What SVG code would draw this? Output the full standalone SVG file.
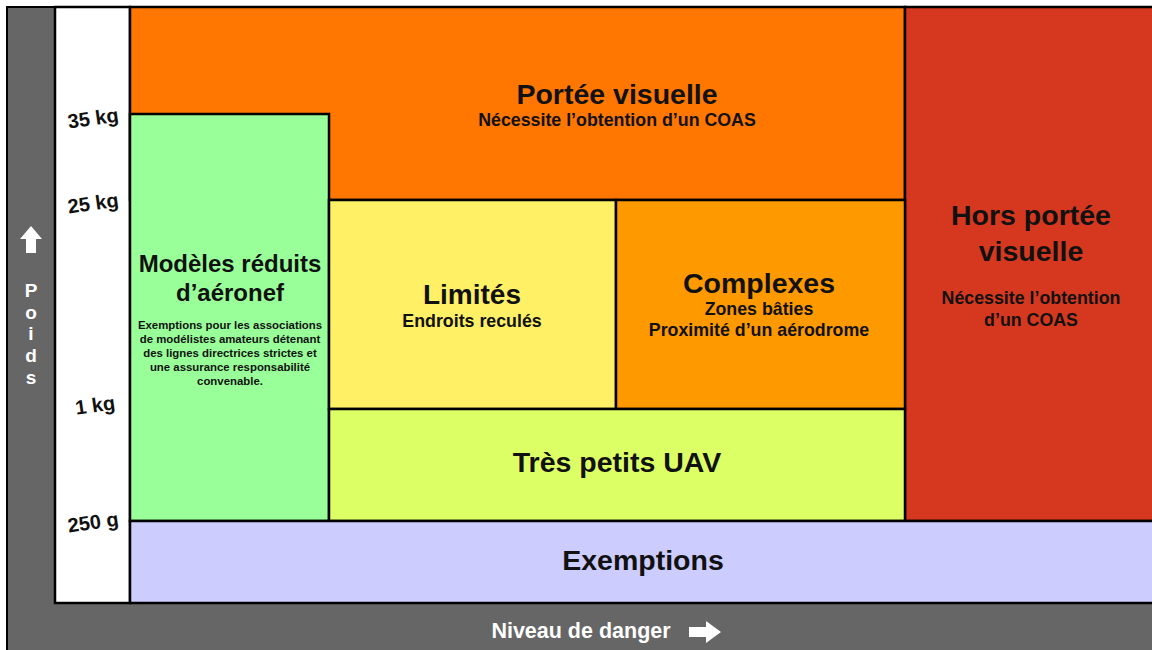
<svg xmlns="http://www.w3.org/2000/svg" width="1152" height="650" viewBox="0 0 1152 650">
<style>
text{font-family:"Liberation Sans",Arial,sans-serif;font-weight:bold;text-anchor:middle;fill:#111}
.box{stroke:#000;stroke-width:2.5}
.t26{font-size:28.5px}
.t22{font-size:24px}
.t16{font-size:17.8px}
.t11{font-size:11.4px}
.ax{font-size:20px}
.w{fill:#fff}
</style>
<rect x="0" y="0" width="1152" height="650" fill="#fff"/>
<rect x="7" y="7" width="1150" height="650" fill="#666" stroke="#000" stroke-width="2"/>
<g id="scale">
<rect class="box" x="55" y="7" width="75" height="596" fill="#fff"/>
<text class="ax" transform="translate(94,125) rotate(-8)">35 kg</text>
<text class="ax" transform="translate(94,210) rotate(-8)">25 kg</text>
<text class="ax" transform="translate(96,412) rotate(-8)">1 kg</text>
<text class="ax" transform="translate(94,529) rotate(-8)">250 g</text>
</g>
<g id="portee-visuelle">
<rect class="box" x="130" y="7" width="775" height="193" fill="#FF7700"/>
<text class="t26" x="617" y="104">Portée visuelle</text>
<text class="t16" x="617" y="126">Nécessite l’obtention d’un COAS</text>
</g>
<g id="hors-portee">
<rect class="box" x="905" y="7" width="250" height="514" fill="#D6381F"/>
<text class="t26" x="1031" y="225">Hors portée</text>
<text class="t26" x="1031" y="261">visuelle</text>
<text class="t16" x="1031" y="304">Nécessite l’obtention</text>
<text class="t16" x="1031" y="326">d’un COAS</text>
</g>
<g id="modeles">
<rect class="box" x="130" y="114" width="199" height="407" fill="#99FF99"/>
<text class="t22" x="230" y="272">Modèles réduits</text>
<text class="t22" x="230" y="301">d’aéronef</text>
<text class="t11" x="230" y="329">Exemptions pour les associations</text>
<text class="t11" x="230" y="343">de modélistes amateurs détenant</text>
<text class="t11" x="230" y="357">des lignes directrices strictes et</text>
<text class="t11" x="230" y="371">une assurance responsabilité</text>
<text class="t11" x="230" y="385">convenable.</text>
</g>
<g id="limites">
<rect class="box" x="329" y="200" width="287" height="209" fill="#FFF066"/>
<text x="472" y="304" style="font-size:28px">Limités</text>
<text class="t16" x="472" y="327">Endroits reculés</text>
</g>
<g id="complexes">
<rect class="box" x="616" y="200" width="289" height="209" fill="#FF9900"/>
<text class="t26" x="759" y="293">Complexes</text>
<text class="t16" x="759" y="315">Zones bâties</text>
<text class="t16" x="759" y="336">Proximité d’un aérodrome</text>
</g>
<g id="tres-petits">
<rect class="box" x="329" y="409" width="576" height="112" fill="#DDFF66"/>
<text class="t26" x="617" y="472">Très petits UAV</text>
</g>
<g id="exemptions">
<rect class="box" x="130" y="521" width="1025" height="82" fill="#CCCCFF"/>
<text class="t26" x="643" y="570">Exemptions</text>
</g>
<g id="axes">
<text class="w" x="581" y="638" style="font-size:21.5px">Niveau de danger</text>
<polygon class="w" points="689,627 706,627 706,621 721,632 706,643 706,637 689,637"/>
<polygon class="w" points="31,226 42,239 36,239 36,253 26,253 26,239 20,239"/>
<text class="w" x="31" y="297" style="font-size:19px">P</text>
<text class="w" x="31" y="319" style="font-size:19px">o</text>
<text class="w" x="31" y="340" style="font-size:19px">i</text>
<text class="w" x="31" y="362" style="font-size:19px">d</text>
<text class="w" x="31" y="384" style="font-size:19px">s</text>
</g>
</svg>
